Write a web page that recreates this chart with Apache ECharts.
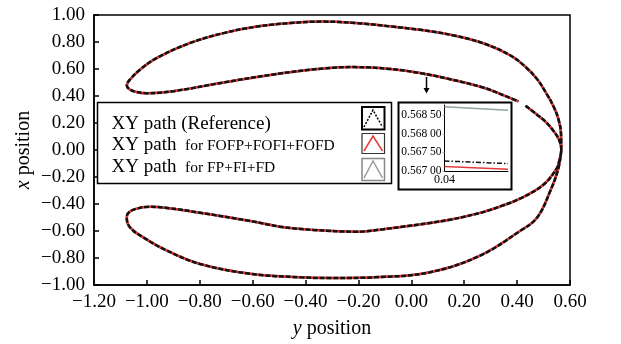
<!DOCTYPE html>
<html><head><meta charset="utf-8">
<script src="https://cdn.jsdelivr.net/npm/echarts@6/dist/echarts.min.js"></script>
<style>html,body{margin:0;padding:0;background:#fff}#c{width:621px;height:344px}</style>
</head><body><div id="c"></div>
<script>
// ---- main path (horizontal = y position, vertical = x position) ----
const upperOuterH = [0.567, 0.566, 0.556, 0.537, 0.510, 0.476, 0.432, 0.375, 0.280, 0.166, 0.033, -0.080, -0.209, -0.333, -0.458, -0.584, -0.710, -0.836, -0.962, -1.025, -1.063, -1.076];
const upperOuterV = [0.000, 0.121, 0.231, 0.326, 0.421, 0.524, 0.615, 0.700, 0.785, 0.846, 0.890, 0.916, 0.940, 0.951, 0.940, 0.914, 0.866, 0.793, 0.683, 0.597, 0.524, 0.480];
const upperInnerH = [-1.066, -1.040, -1.000, -0.899, -0.710, -0.521, -0.332, -0.219, -0.080, 0.033, 0.147, 0.271, 0.354, 0.405];
const upperInnerV = [0.450, 0.430, 0.421, 0.436, 0.500, 0.560, 0.604, 0.614, 0.600, 0.570, 0.524, 0.463, 0.401, 0.360];
const upperJoinH = [0.432, 0.470, 0.510, 0.540, 0.560, 0.567];
const upperJoinV = [0.328, 0.270, 0.205, 0.135, 0.070, 0.000];
const lowerInnerH = [0.560, 0.550, 0.499, 0.411, 0.336, 0.260, 0.150, 0.071, -0.040, -0.118, -0.206, -0.370, -0.496, -0.609, -0.799, -0.924, -0.988, -1.045, -1.072, -1.076];
const lowerInnerV = [-0.075, -0.136, -0.258, -0.360, -0.418, -0.466, -0.515, -0.540, -0.570, -0.590, -0.605, -0.592, -0.568, -0.526, -0.465, -0.429, -0.421, -0.438, -0.470, -0.505];
const lowerOuterH = [-1.063, -1.013, -0.924, -0.799, -0.609, -0.420, -0.307, -0.118, 0.071, 0.260, 0.411, 0.475, 0.525, 0.556, 0.567];
const lowerOuterV = [-0.575, -0.648, -0.746, -0.844, -0.917, -0.943, -0.949, -0.941, -0.905, -0.782, -0.600, -0.502, -0.306, -0.136, 0.000];

// ---- inset values ----
const insetX = [0.04, 0.05];
const insetFP = [0.56873, 0.56864];       // FP+FI+FD (grey)
const insetRef = [0.56727, 0.56720];      // reference (black dash-dot)
const insetFO = [0.56712, 0.56705];       // FOFP+FOFI+FOFD (red)

const legendNames = ['XY path (Reference)', 'for FOFP+FOFI+FOFD', 'for FP+FI+FD'];

const SERIF = '"Liberation Serif","Times New Roman",serif';

function zip(h, v) { return h.map((x, i) => [x, v[i]]); }
const pathData = [].concat(
  zip(upperOuterH, upperOuterV),
  zip(upperInnerH, upperInnerV),
  ['-'],
  zip(upperJoinH, upperJoinV),
  zip(lowerInnerH, lowerInnerV),
  zip(lowerOuterH, lowerOuterV)
);
function fmt2(v) { if (Math.abs(v) < 1e-9) return '0.00'; return v.toFixed(2).replace('-', '\u2212'); }
function fmtInset(v) { const s = v.toFixed(5); return s.slice(0, 5) + ' ' + s.slice(5); }

const chart = echarts.init(document.getElementById('c'), null, { renderer: 'canvas' });
const lab = { color: '#000', fontFamily: SERIF };
chart.setOption({
  animation: false,
  backgroundColor: '#fff',
  grid: [
    { left: 94, right: 51, top: 15, bottom: 56, show: true, borderColor: '#000', borderWidth: 1.5, backgroundColor: 'transparent' },
    { left: 444.5, right: 113, top: 105, bottom: 173 }
  ],
  xAxis: [
    { gridIndex: 0, type: 'value', min: -1.2, max: 0.6, interval: 0.2,
      axisLine: { onZero: false, lineStyle: { color: '#000', width: 1.5 } },
      axisTick: { inside: true, length: 5, lineStyle: { color: '#000', width: 1.5 } },
      axisLabel: Object.assign({ fontSize: 19, margin: 8, formatter: fmt2 }, lab),
      splitLine: { show: false },
      name: '{i|y} position', nameLocation: 'middle', nameGap: 34, nameMoveOverlap: false,
      nameTextStyle: Object.assign({ fontSize: 20, rich: { i: { fontStyle: 'italic', fontSize: 20, fontFamily: SERIF, color: '#000' } } }, lab) },
    { gridIndex: 1, type: 'value', min: 0.04, max: 0.05, interval: 0.01, z: 5,
      axisLine: { onZero: false, lineStyle: { color: '#000', width: 1 } },
      axisTick: { show: false },
      axisLabel: Object.assign({ fontSize: 12, margin: 3, formatter: fmt2, showMaxLabel: false }, lab),
      splitLine: { show: false } }
  ],
  yAxis: [
    { gridIndex: 0, type: 'value', min: -1, max: 1, interval: 0.2,
      axisLine: { onZero: false, lineStyle: { color: '#000', width: 1.5 } },
      axisTick: { inside: true, length: 5, lineStyle: { color: '#000', width: 1.5 } },
      axisLabel: Object.assign({ fontSize: 19, margin: 9, formatter: fmt2 }, lab),
      splitLine: { show: false },
      name: '{i|x} position', nameLocation: 'middle', nameGap: 60, nameRotate: 90, nameMoveOverlap: false,
      nameTextStyle: Object.assign({ fontSize: 20, rich: { i: { fontStyle: 'italic', fontSize: 20, fontFamily: SERIF, color: '#000' } } }, lab) },
    { gridIndex: 1, type: 'value', min: 0.567, max: 0.56878, interval: 0.0005, z: 5,
      axisLine: { onZero: false, lineStyle: { color: '#000', width: 1 } },
      axisTick: { length: 2, lineStyle: { color: '#9bb3c8', width: 1 } },
      axisLabel: Object.assign({ fontSize: 11.5, margin: 3, formatter: fmtInset, showMaxLabel: false }, lab),
      splitLine: { show: false } }
  ],
  series: [
    { name: 'FP+FI+FD', type: 'line', xAxisIndex: 0, yAxisIndex: 0, data: pathData, showSymbol: false, smooth: 0.4, z: 2,
      lineStyle: { color: '#9a9a9a', width: 2.5 } },
    { name: 'FOFP+FOFI+FOFD', type: 'line', xAxisIndex: 0, yAxisIndex: 0, data: pathData, showSymbol: false, smooth: 0.4, z: 3,
      lineStyle: { color: '#e8393a', width: 2.5 } },
    { name: 'Reference', type: 'line', xAxisIndex: 0, yAxisIndex: 0, data: pathData, showSymbol: false, smooth: 0.4, z: 4,
      lineStyle: { color: '#111', width: 2.5, type: [5, 1.8] } },
    { type: 'line', xAxisIndex: 1, yAxisIndex: 1, data: zip(insetX, insetFP), showSymbol: false, z: 6,
      lineStyle: { color: '#8fa3a3', width: 1.5 } },
    { type: 'line', xAxisIndex: 1, yAxisIndex: 1, data: zip(insetX, insetRef), showSymbol: false, z: 6,
      lineStyle: { color: '#111', width: 1.5, type: [5, 2, 1.5, 2] } },
    { type: 'line', xAxisIndex: 1, yAxisIndex: 1, data: zip(insetX, insetFO), showSymbol: false, z: 6,
      lineStyle: { color: '#e8393a', width: 1.5 } }
  ],
  graphic: [
    // legend box
    { type: 'rect', z: 10, shape: { x: 97.5, y: 102.5, width: 294, height: 81 }, style: { fill: '#fff', stroke: '#000', lineWidth: 1.5 } },
    { type: 'text', z: 11, x: 111.5, y: 123.7, style: { text: legendNames[0], font: '19px ' + SERIF, fill: '#000', verticalAlign: 'middle' } },
    { type: 'text', z: 11, x: 111.5, y: 144.7, style: { text: 'XY path', font: '19px ' + SERIF, fill: '#000', verticalAlign: 'middle' } },
    { type: 'text', z: 11, x: 185, y: 145.9, style: { text: legendNames[1], font: '15.5px ' + SERIF, fill: '#000', verticalAlign: 'middle' } },
    { type: 'text', z: 11, x: 111.5, y: 166.7, style: { text: 'XY path', font: '19px ' + SERIF, fill: '#000', verticalAlign: 'middle' } },
    { type: 'text', z: 11, x: 185, y: 167.9, style: { text: legendNames[2], font: '15.5px ' + SERIF, fill: '#000', verticalAlign: 'middle' } },
    // legend icons
    { type: 'rect', z: 11, shape: { x: 362, y: 107, width: 22.5, height: 22.5 }, style: { fill: '#fff', stroke: '#000', lineWidth: 2 } },
    { type: 'polyline', z: 12, shape: { points: [[364, 127], [373, 110], [382.5, 127]] }, style: { fill: null, stroke: '#000', lineWidth: 1.5, lineDash: [2, 1.5] } },
    { type: 'rect', z: 11, shape: { x: 362, y: 133.5, width: 22.5, height: 20 }, style: { fill: '#fff', stroke: '#333', lineWidth: 1.2 } },
    { type: 'polyline', z: 12, shape: { points: [[364, 151], [373, 136], [382.5, 151]] }, style: { fill: null, stroke: '#e8393a', lineWidth: 1.5 } },
    { type: 'rect', z: 11, shape: { x: 362, y: 158.5, width: 22.5, height: 22 }, style: { fill: '#fff', stroke: '#888', lineWidth: 1.5 } },
    { type: 'polyline', z: 12, shape: { points: [[364, 178], [373, 161], [382.5, 178]] }, style: { fill: null, stroke: '#9a9a9a', lineWidth: 1.5 } },
    // inset frame
    { type: 'rect', z: 1, shape: { x: 398.5, y: 102.5, width: 113, height: 87 }, style: { fill: '#fff', stroke: '#000', lineWidth: 2 } },
    // arrow
    { type: 'line', z: 10, shape: { x1: 426.5, y1: 77, x2: 426.5, y2: 89 }, style: { stroke: '#000', lineWidth: 1.5 } },
    { type: 'polygon', z: 10, shape: { points: [[423.5, 88], [429.5, 88], [426.5, 93.5]] }, style: { fill: '#000' } }
  ]
});
</script>
</body></html>
